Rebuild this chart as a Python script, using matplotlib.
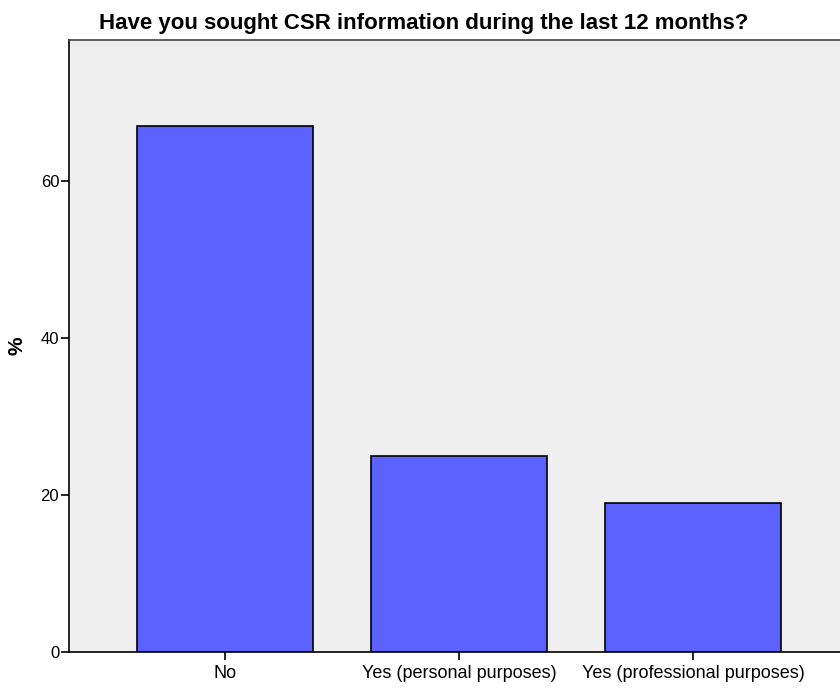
import matplotlib.pyplot as plt

plt.rcParams['font.family'] = ['Liberation Sans', 'DejaVu Sans']

# answers and percentages
answers = ['No', 'Yes (personal purposes)', 'Yes (professional purposes)']
percent = [67, 25, 19]

fig = plt.figure(figsize=(8.4, 6.91), dpi=100)
ax = fig.add_axes([0.0821, 0.0564, 0.9179, 0.8857])
ax.set_facecolor('#efefef')

x = range(len(answers))
ax.bar(x, percent, width=0.752, color='#5c62ff', edgecolor='black', linewidth=1.2, zorder=2)

ax.set_xlim(-0.667, 2.628)
ax.set_ylim(0, 78)
ax.set_xticks(list(x))
ax.set_xticklabels(answers, fontsize=13)
ax.set_yticks([0, 20, 40, 60])
ax.tick_params(axis='y', labelsize=12, length=6, width=1.2, pad=1)
ax.tick_params(axis='x', length=6, width=1.2, pad=3)
ax.set_ylabel('%', fontsize=15, fontweight='bold', labelpad=10)

for side in ['left', 'bottom', 'top']:
    ax.spines[side].set_linewidth(1.2)
ax.spines['top'].set_color('#444444')
ax.spines['right'].set_visible(False)

fig.text(424 / 840, 1 - 23 / 691, 'Have you sought CSR information during the last 12 months?',
         ha='center', va='center', fontsize=16, fontweight='bold')

fig.savefig('out.png', dpi=100)
